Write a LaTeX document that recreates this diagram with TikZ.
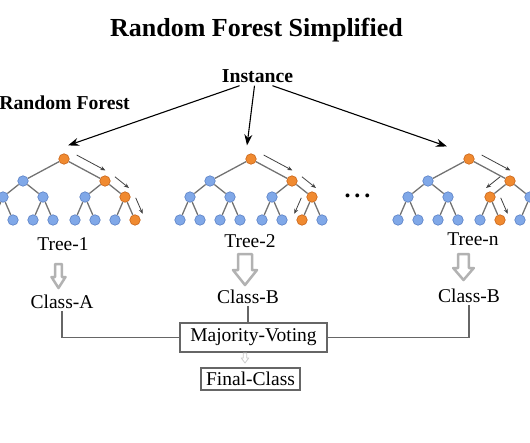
\documentclass[tikz,border=0pt]{standalone}
\usepackage{fontspec}
\setmainfont{Liberation Serif}
\usetikzlibrary{calc,arrows.meta}

\definecolor{leafblue}{HTML}{80A8E8}
\definecolor{leafline}{HTML}{5A80C4}
\definecolor{pathorange}{HTML}{F08A30}
\definecolor{pathline}{HTML}{C86418}

\tikzset{
  bnode/.style={circle, inner sep=0pt, minimum size=10.5pt, fill=leafblue, draw=leafline, line width=0.6pt},
  onode/.style={fill=pathorange, draw=pathline},
  branch/.style={draw=black!55, line width=1.3pt},
  walkarrow/.style={draw=black!75, line width=0.8pt, -{Stealth[length=5pt,width=4pt]}},
  feed/.style={line width=1.1pt, -{Stealth[length=11pt,width=8pt]}},
  hollow/.style={draw=black!30, line width=2.5pt, fill=white, line join=round},
  link/.style={draw=black!60, line width=1.2pt},
  lbl/.style={font=\fontsize{19.5}{22}\selectfont, anchor=base, inner sep=3pt},
  box/.style={draw=black!60, line width=1.2pt, inner sep=0pt, font=\fontsize{19.5}{22}\selectfont},
  % nodes on the voting path
  hl/t1/.style=onode, hl/t1-2/.style=onode, hl/t1-22/.style=onode, hl/t1-222/.style=onode,
  hl/t2/.style=onode, hl/t2-2/.style=onode, hl/t2-22/.style=onode, hl/t2-221/.style=onode,
  hl/tn/.style=onode, hl/tn-2/.style=onode, hl/tn-21/.style=onode, hl/tn-212/.style=onode,
}

% one decision tree: name, x of root
\newcommand{\rftree}[2]{%
  \node[bnode, hl/#1/.try] (#1) at (#2,159) {};
  \foreach \i/\dx in {1/-41,2/41} {
    \node[bnode, hl/#1-\i/.try] (#1-\i) at ($(#1)+(\dx,22)$) {};
    \draw[branch] (#1) -- (#1-\i);
    \foreach \j/\ddx in {1/-20,2/20} {
      \node[bnode, hl/#1-\i\j/.try] (#1-\i\j) at ($(#1-\i)+(\ddx,16)$) {};
      \draw[branch] (#1-\i) -- (#1-\i\j);
      \foreach \k/\dddx in {1/-10,2/10} {
        \node[bnode, hl/#1-\i\j\k/.try] (#1-\i\j\k) at ($(#1-\i\j)+(\dddx,23)$) {};
        \draw[branch] (#1-\i\j) -- (#1-\i\j\k);
      }
    }
  }
}
% small arrow beside a branch
\newcommand{\walk}[3]{\draw[walkarrow] ($(#1)!.2!(#2)!9.5pt!#3:(#1)$) -- ($(#1)!.9!(#2)!9.5pt!#3:(#1)$);}
% grey hollow arrow pointing down
\newcommand{\hollowdown}[7][]{\draw[hollow,#1] (#2-#6,#3) -- (#2+#6,#3) -- (#2+#6,#4) -- (#2+#7,#4) -- (#2,#5) -- (#2-#7,#4) -- (#2-#6,#4) -- cycle;}

\begin{document}
\begin{tikzpicture}[x=1pt,y=-1pt]
  \useasboundingbox (0,0) rectangle (530,442);

  \node[font=\bfseries\fontsize{26}{30}\selectfont, anchor=base] (title) at (256.5,36) {Random Forest Simplified};
  \node[font=\bfseries\fontsize{19.7}{22}\selectfont, anchor=base] (inst) at (257.5,82) {Instance};
  \node[font=\bfseries\fontsize{19.7}{22}\selectfont, anchor=base east, inner sep=0pt] (forest) at (130,109) {Random Forest};

  \rftree{t1}{64}
  \rftree{t2}{251}
  \rftree{tn}{469}

  \walk{t1}{t1-2}{-90} \walk{t1-2}{t1-22}{-90} \walk{t1-22}{t1-222}{-90}
  \walk{t2}{t2-2}{-90} \walk{t2-2}{t2-22}{-90} \walk{t2-22}{t2-221}{90}
  \walk{tn}{tn-2}{-90} \walk{tn-2}{tn-21}{90} \walk{tn-21}{tn-212}{-90}

  \draw[feed] ([xshift=-18pt]inst.south) -- ([xshift=4pt,yshift=8pt]t1.north);
  \draw[feed] ([xshift=-3pt]inst.south) -- ([xshift=-4pt,yshift=8pt]t2.north);
  \draw[feed] ([xshift=15pt]inst.south) -- ([xshift=-22pt,yshift=7pt]tn.north);

  \node[font=\bfseries\fontsize{24}{26}\selectfont, anchor=base] (dots) at (357.5,197) {.\,.\,.};

  \node[lbl] (tree1) at (63,250) {Tree-1};
  \node[lbl] (tree2) at (250,247) {Tree-2};
  \node[lbl] (treen) at (473,245) {Tree-n};

  \hollowdown{58.5}{264}{277}{288}{3.3}{7}
  \hollowdown{245}{254}{270}{285}{7}{12}
  \hollowdown{463.5}{254}{268}{280}{5.3}{10.3}

  \node[lbl] (clsA) at (62,308) {Class-A};
  \node[lbl] (clsB) at (248,303) {Class-B};
  \node[lbl] (clsN) at (469,302) {Class-B};

  \node[box, minimum width=147pt, minimum height=29pt] (vote) at (253.5,337.5) {Majority-Voting};
  \node[box, minimum width=99pt, minimum height=22pt] (final) at (250.5,379) {Final-Class};

  \draw[link] (clsA.south) |- (vote.west);
  \draw[link] (clsB.south) -- (clsB.south |- vote.north);
  \draw[link] (clsN.south) |- (vote.east);

  \hollowdown[line width=0.8pt, draw=black!20]{245}{353}{358}{363}{1.8}{3.8}
\end{tikzpicture}
\end{document}
